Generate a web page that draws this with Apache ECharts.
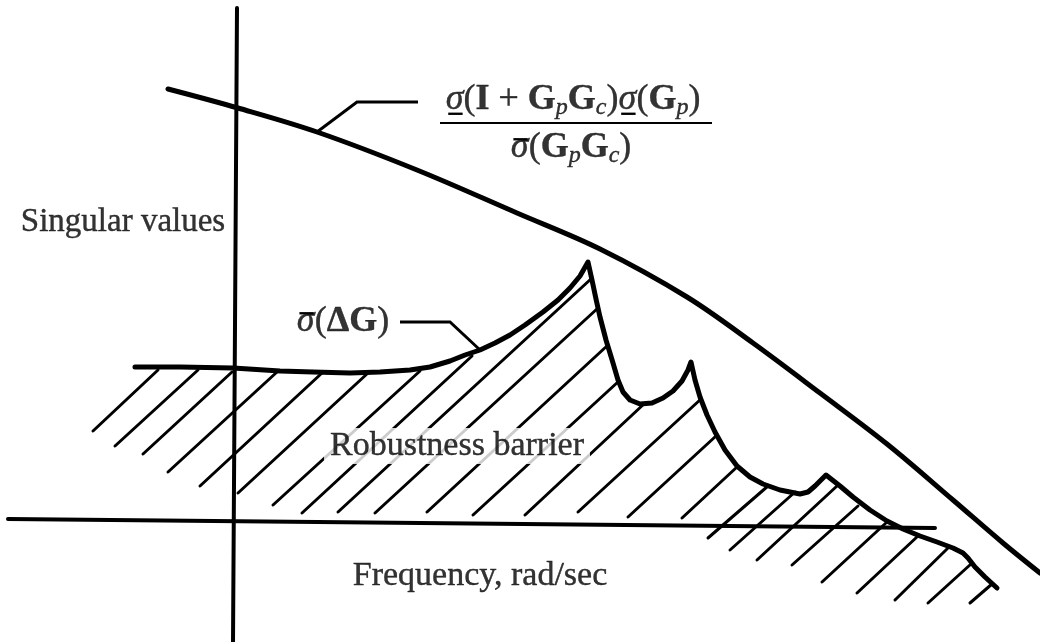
<!DOCTYPE html>
<html>
<head>
<meta charset="utf-8">
<script src="https://cdn.jsdelivr.net/npm/echarts@6/dist/echarts.min.js"></script>
<style>
  html, body { margin: 0; padding: 0; background: #fff; }
  #chart { width: 1040px; height: 642px; }
</style>
</head>
<body>
<div id="chart"></div>
<script>
// Schematic units: x = frequency, y = singular value (origin where the axes cross)
const xRange = [-233, 807];
const yRange = [-121, 521];

// Hand-drawn axes
const freqAxis = [[-225, 2], [702, -7]];
const svAxis = [[4, 513], [0, -121]];

// Upper bound  σ(I+GpGc)σ(Gp)/σ̄(GpGc)
const upperBound = [
  [-65, 432], [5, 413], [84, 389], [184, 351], [284, 308], [367, 272],
  [454, 224], [520, 178], [587, 128], [654, 77], [720, 21], [770, -22], [807, -52]
];

// Model-error curve σ̄(ΔG): top edge of the robustness barrier
const deltaG = [
  [-98, 154], [-53, 154], [0, 153], [47, 150], [80, 149], [117, 148], [147, 149],
  [177, 151], [197, 154], [217, 160], [232, 166], [247, 171], [262, 178], [277, 186],
  [292, 196], [310, 209], [325, 221], [337, 233], [347, 245], [355, 259],
  [359, 241], [363, 222], [367, 204], [373, 181], [380, 158], [385, 141], [390, 129],
  [397, 121], [407, 117], [419, 118], [430, 123], [440, 130], [449, 140], [455, 151],
  [458, 159],
  [462, 141], [467, 124], [474, 106], [482, 89], [492, 71], [504, 55], [517, 44],
  [530, 37], [547, 31], [567, 27], [575, 29], [582, 35], [588, 41], [593, 46],
  [607, 35], [620, 24], [637, 11], [654, 0], [670, -8], [687, -15], [704, -21],
  [720, -27], [730, -32], [735, -37], [742, -46], [752, -56], [764, -67]
];

// Hatching under the barrier: [xTop, yTop, xBottom, yBottom]
const hatch = [
  [-75, 151, -140, 90], [-35, 151, -118, 75], [-1, 149, -90, 67], [44, 149, -65, 49],
  [89, 148, -33, 35], [135, 148, 5, 28], [187, 150, 40, 16], [239, 165, 69, 8],
  [359, 243, 105, 9], [365, 213, 142, 8], [375, 176, 194, 9], [386, 140, 240, 6],
  [412, 118, 292, 6], [468, 122, 345, 9], [483, 85, 395, 4], [504, 54, 449, 3],
  [535, 35, 475, -17], [562, 29, 497, -29], [604, 35, 524, -39], [625, 15, 559, -44],
  [654, -1, 589, -61], [685, -15, 624, -72], [715, -27, 662, -79], [738, -43, 695, -82],
  [759, -63, 737, -82]
];

// Callout leaders and the fraction bar of the upper-bound formula
const upperLeader = [[84, 389], [124, 419], [185, 419]];
const deltaLeader = [[167, 199], [217, 199], [246, 172]];
const fractionBar = [[207, 398], [479, 398]];

// Text anchors (label centres) and texts
const labelNames = ['numerator', 'denominator', 'yTitle', 'deltaG', 'barrier', 'xTitle'];
const labelAnchors = [[340, 421], [338, 373], [-110, 299], [110, 199], [224, 75], [247, -55]];
const labelTexts = [
  '{lo|σ}{n|(}{b|I}{op|+}{b|G}{sub|p}{b|G}{sub|c}{n|)}{lo|σ}{n|(}{b|G}{sub|p}{n|)}',
  '{hi|σ}{n|(}{b|G}{sub|p}{b|G}{sub|c}{n|)}',
  'Singular values',
  '{hi|σ}{n|(}{b|ΔG}{n|)}',
  'Robustness barrier',
  'Frequency, rad/sec'
];
const labelSizes = [36, 36, 33, 34, 34, 34];

const SERIF = "'Liberation Serif', 'DejaVu Serif', serif";
const INK = '#000';

// Bars under / over σ (minimum / maximum singular value), drawn as token backgrounds
const barImage = (y) => 'data:image/svg+xml;charset=utf-8,' + encodeURIComponent(
  '<svg xmlns="http://www.w3.org/2000/svg" width="20" height="40" viewBox="0 0 20 40" ' +
  'preserveAspectRatio="none"><rect x="3" y="' + y + '" width="16" height="2.6" fill="#000"/></svg>');

const LH = 40;
const FS = 36;
const ink = { color: INK, textBorderColor: INK, textBorderWidth: 0.4 };
const mathRich = {
  n: Object.assign({ fontFamily: SERIF, fontSize: FS, lineHeight: LH }, ink),
  op: Object.assign({ fontFamily: SERIF, fontSize: FS, lineHeight: LH, padding: [0, 9, 0, 9] }, ink),
  b: Object.assign({ fontFamily: SERIF, fontSize: FS, fontWeight: 'bold', lineHeight: LH }, ink),
  lo: Object.assign({ fontFamily: SERIF, fontSize: FS, fontStyle: 'italic', lineHeight: LH,
        backgroundColor: { image: barImage(34) } }, ink),
  hi: Object.assign({ fontFamily: SERIF, fontSize: FS, fontStyle: 'italic', lineHeight: LH,
        backgroundColor: { image: barImage(9) } }, ink),
  sub: Object.assign({ fontFamily: SERIF, fontSize: 24, fontStyle: 'italic',
         lineHeight: 25, verticalAlign: 'bottom' }, ink)
};

const textData = labelNames.map((name, i) => {
  const item = {
    name: name, value: labelAnchors[i],
    label: { formatter: labelTexts[i], fontSize: labelSizes[i] }
  };
  if (name === 'barrier') {
    item.label.backgroundColor = '#fff';
    item.label.padding = [1, 6, 1, 6];
  }
  return item;
});

const toSegments = (arr) => arr.map(s => ({ coords: [[s[0], s[1]], [s[2], s[3]]] }));

const chart = echarts.init(document.getElementById('chart'), null, { renderer: 'canvas' });

chart.setOption({
  animation: false,
  backgroundColor: '#fff',
  grid: { left: 0, right: 0, top: 0, bottom: 0 },
  xAxis: { type: 'value', min: xRange[0], max: xRange[1], show: false },
  yAxis: { type: 'value', min: yRange[0], max: yRange[1], show: false },
  series: [
    {
      name: 'hatch', type: 'lines', coordinateSystem: 'cartesian2d', z: 2,
      lineStyle: { color: INK, width: 3, opacity: 1, cap: 'round' },
      data: toSegments(hatch)
    },
    {
      name: 'axes', type: 'lines', coordinateSystem: 'cartesian2d', z: 3,
      lineStyle: { color: INK, width: 4, opacity: 1, cap: 'round' },
      data: [{ coords: freqAxis }, { coords: svAxis }]
    },
    {
      name: 'leaders', type: 'lines', coordinateSystem: 'cartesian2d', polyline: true, z: 3,
      lineStyle: { color: INK, width: 3, opacity: 1, join: 'miter' },
      data: [{ coords: upperLeader }, { coords: deltaLeader }]
    },
    {
      name: 'fraction', type: 'lines', coordinateSystem: 'cartesian2d', z: 3,
      lineStyle: { color: INK, width: 2, opacity: 1 },
      data: [{ coords: fractionBar }]
    },
    {
      name: 'upper bound', type: 'line', data: upperBound, smooth: 0.35,
      symbol: 'none', clip: false, z: 4,
      lineStyle: { color: INK, width: 5, cap: 'round' }
    },
    {
      name: 'σ̄(ΔG)', type: 'line', data: deltaG, smooth: false,
      symbol: 'none', clip: false, z: 4,
      lineStyle: { color: INK, width: 5, cap: 'round', join: 'round' }
    },
    {
      name: 'labels', type: 'scatter', symbolSize: 0, z: 10, silent: true,
      data: textData,
      label: {
        show: true, position: 'inside', align: 'center', verticalAlign: 'middle',
        fontFamily: SERIF, color: INK, textBorderColor: INK, textBorderWidth: 0.4,
        rich: mathRich
      }
    }
  ]
});
</script>
</body>
</html>
